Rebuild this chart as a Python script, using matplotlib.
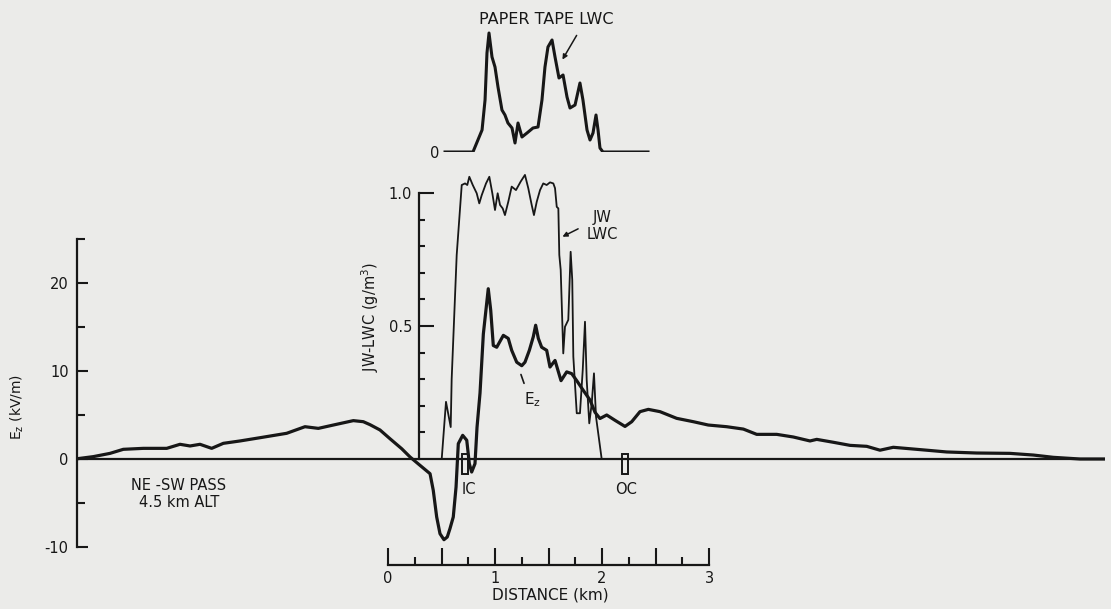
import numpy as np
import matplotlib

matplotlib.use("Agg")
import matplotlib.pyplot as plt
from matplotlib.patches import Rectangle
from matplotlib.ticker import FixedLocator, FixedFormatter

# vertical field Ez (kV/m) along the NE-SW pass, distance in km
ez_dist = [
    -2.925, -2.754, -2.598, -2.474, -2.287, -2.068, -1.944, -1.850, -1.757, -1.648,
    -1.539, -1.383, -1.196, -0.947, -0.776, -0.651, -0.511, -0.324, -0.231, -0.168,
    -0.075, 0.019, 0.128, 0.206, 0.299, 0.393, 0.423, 0.455, 0.486, 0.523,
    0.554, 0.579, 0.610, 0.636, 0.657, 0.698, 0.736, 0.760, 0.782, 0.813,
    0.832, 0.860, 0.891, 0.937, 0.960, 0.984, 1.016, 1.078, 1.124, 1.156,
    1.203, 1.250, 1.280, 1.321, 1.358, 1.380, 1.405, 1.436, 1.483, 1.514,
    1.561, 1.617, 1.670, 1.717, 1.764, 1.825, 1.888, 1.935, 1.981, 2.044,
    2.121, 2.215, 2.278, 2.355, 2.433, 2.542, 2.698, 2.853, 2.993, 3.165,
    3.321, 3.446, 3.633, 3.788, 3.944, 4.007, 4.162, 4.318, 4.474, 4.598,
    4.722, 5.035, 5.221, 5.502, 5.813, 6.031, 6.218, 6.467, 6.70,
]
ez_kvm = [
    0.0, 0.27, 0.64, 1.1, 1.21, 1.21, 1.67, 1.48, 1.67, 1.21,
    1.78, 2.05, 2.42, 2.92, 3.67, 3.48, 3.86, 4.36, 4.24, 3.9,
    3.3, 2.3, 1.17, 0.23, -0.72, -1.67, -3.56, -6.59, -8.49, -9.17,
    -8.86, -7.92, -6.59, -3.18, 1.74, 2.69, 2.13, -0.53, -1.48, -0.53,
    3.6, 7.5, 14.2, 19.35, 16.9, 12.9, 12.7, 14.05, 13.7, 12.35,
    11.0, 10.6, 11.0, 12.35, 13.9, 15.2, 13.7, 12.7, 12.35, 10.45,
    11.2, 8.9, 9.9, 9.7, 8.9, 7.8, 6.7, 5.3, 4.6, 5.0,
    4.4, 3.7, 4.24, 5.38, 5.64, 5.38, 4.62, 4.24, 3.86, 3.67,
    3.4, 2.8, 2.8, 2.5, 2.05, 2.23, 1.9, 1.55, 1.44, 1.0,
    1.33, 1.0, 0.8, 0.68, 0.64, 0.45, 0.19, 0.0, 0.0,
]

# Johnson-Williams liquid water content (g/m3)
jw_dist = [
    0.502, 0.542, 0.586, 0.595, 0.642, 0.689, 0.720, 0.741, 0.760, 0.792,
    0.829, 0.853, 0.876, 0.916, 0.947, 0.975, 1.000, 1.025, 1.047, 1.072,
    1.093, 1.124, 1.156, 1.196, 1.240, 1.280, 1.311, 1.343, 1.364, 1.390,
    1.421, 1.451, 1.483, 1.514, 1.545, 1.561, 1.577, 1.592, 1.601, 1.614,
    1.638, 1.654, 1.685, 1.707, 1.722, 1.732, 1.764, 1.794, 1.820, 1.841,
    1.857, 1.881, 1.904, 1.925, 1.944, 1.997,
]
jw_lwc = [
    0.0, 0.215, 0.12, 0.30, 0.767, 1.03, 1.036, 1.03, 1.061, 1.03,
    0.999, 0.961, 0.992, 1.036, 1.061, 0.999, 0.936, 0.999, 0.955, 0.942,
    0.917, 0.967, 1.024, 1.011, 1.043, 1.068, 1.018, 0.955, 0.917, 0.967,
    1.011, 1.036, 1.03, 1.04, 1.036, 1.018, 0.948, 0.942, 0.767, 0.711,
    0.397, 0.497, 0.523, 0.779, 0.673, 0.385, 0.172, 0.172, 0.335, 0.516,
    0.297, 0.134, 0.209, 0.322, 0.159, 0.0,
]

# paper tape LWC, relative units
tape_dist = [
    0.533, 0.794, 0.879, 0.907, 0.925, 0.944, 0.972, 1.000, 1.028, 1.065,
    1.093, 1.121, 1.159, 1.187, 1.215, 1.252, 1.299, 1.355, 1.402, 1.439,
    1.467, 1.495, 1.533, 1.561, 1.598, 1.636, 1.673, 1.701, 1.748, 1.794,
    1.822, 1.860, 1.888, 1.916, 1.944, 1.963, 1.981, 2.009, 2.430,
]
tape_lwc = [
    0, 0, 0.22, 0.52, 0.99, 1.19, 0.95, 0.85, 0.65, 0.42,
    0.37, 0.29, 0.24, 0.09, 0.29, 0.15, 0.19, 0.24, 0.25, 0.52,
    0.85, 1.05, 1.12, 0.95, 0.74, 0.77, 0.55, 0.44, 0.47, 0.69,
    0.52, 0.22, 0.12, 0.19, 0.37, 0.22, 0.04, 0, 0,
]

# in-cloud / out-of-cloud markers
edge_dist = [0.72, 2.215]
edge_labels = ["IC", "OC"]

ez_ticks = [-10, 0, 10, 20]
ez_minor = [-5, 5, 15, 25]
lwc_ticks = [0.5, 1.0]
dist_ticks = [0, 0.5, 1, 1.5, 2, 2.5, 3]
dist_labels = ["0", "", "1", "", "2", "", "3"]

W, H = 1111, 609
INK = "#171717"
BG = "#ebebe9"

# pixel anchors of the scanned figure
KM_PX, ZERO_X = 107.0, 388
EZ_PX, ZERO_Y = 8.8, 459
LWC_PX = 266.0
LEFT, RIGHT, BOTTOM, TOP = 77, 1105, 565, 150


def rect(x0, y0, x1, y1):
    return [x0 / W, 1 - y1 / H, (x1 - x0) / W, (y1 - y0) / H]


def main():
    plt.rcParams["font.family"] = ["DejaVu Sans"]
    plt.rcParams["mathtext.default"] = "regular"

    fig = plt.figure(figsize=(W / 100, H / 100), dpi=100)
    fig.patch.set_facecolor(BG)

    xlim = ((LEFT - ZERO_X) / KM_PX, (RIGHT - ZERO_X) / KM_PX)

    # Ez axes, distance axis at the bottom
    ax = fig.add_axes(rect(LEFT, TOP, RIGHT, BOTTOM))
    ax.patch.set_visible(False)
    ax.set_xlim(*xlim)
    ax.set_ylim((ZERO_Y - BOTTOM) / EZ_PX, (ZERO_Y - TOP) / EZ_PX)
    for s in ["top", "right"]:
        ax.spines[s].set_visible(False)
    ax.spines["left"].set_bounds(-10, 25)
    ax.spines["bottom"].set_bounds(0, 3)
    for s in ["left", "bottom"]:
        ax.spines[s].set_linewidth(1.6)
        ax.spines[s].set_color(INK)

    ax.yaxis.set_major_locator(FixedLocator(ez_ticks))
    ax.yaxis.set_minor_locator(FixedLocator(ez_minor))
    ax.yaxis.set_major_formatter(FixedFormatter([str(t) for t in ez_ticks]))
    ax.xaxis.set_major_locator(FixedLocator(dist_ticks))
    ax.xaxis.set_major_formatter(FixedFormatter(dist_labels))
    ax.xaxis.set_minor_locator(FixedLocator(np.arange(0.25, 3, 0.5)))
    ax.tick_params(axis="y", which="major", direction="in", length=8, width=1.5,
                   labelsize=10.5, pad=6, color=INK, labelcolor=INK)
    ax.tick_params(axis="y", which="minor", direction="in", length=6, width=1.5, color=INK)
    ax.tick_params(axis="x", which="major", direction="in", length=12, width=1.5,
                   labelsize=10.5, pad=4, color=INK, labelcolor=INK)
    ax.tick_params(axis="x", which="minor", direction="in", length=5.5, width=1.5, color=INK)

    ax.axhline(0, color=INK, lw=1.6)
    ax.plot(ez_dist, ez_kvm, color=INK, lw=2.3, solid_joinstyle="round")

    ax.set_ylabel("E$_z$ (kV/m)", fontsize=10, color=INK)
    ax.yaxis.set_label_coords((17 - LEFT) / (RIGHT - LEFT), (BOTTOM - 407) / (BOTTOM - TOP))
    ax.yaxis.label.set_va("center")
    ax.set_xlabel("DISTANCE (km)", fontsize=11, color=INK)
    ax.xaxis.set_label_coords((550 - LEFT) / (RIGHT - LEFT), (BOTTOM - 587) / (BOTTOM - TOP))

    for d, lab, dx in zip(edge_dist, edge_labels, [0.04, 0.01]):
        ax.add_patch(Rectangle((d - 0.028, -1.7), 0.056, 2.3, fill=False,
                               edgecolor=INK, lw=1.4, zorder=3))
        ax.text(d + dx, -3.45, lab, ha="center", va="center", fontsize=10.5, color=INK)

    ax.text(-1.953, -3.95, "NE -SW PASS\n4.5 km ALT", ha="center", va="center",
            fontsize=10.5, color=INK, linespacing=1.15)
    ax.text(1.355, 6.7, "E$_z$", ha="center", va="center", fontsize=11, color=INK)
    ax.annotate("", xy=(1.234, 9.9), xytext=(1.28, 8.3),
                arrowprops=dict(arrowstyle="-", lw=1.2, color=INK))

    # JW LWC axes, its axis sits inside the plot
    ax2 = fig.add_axes(rect(LEFT, TOP, RIGHT, BOTTOM), sharex=ax)
    ax2.patch.set_visible(False)
    ax2.set_ylim((ZERO_Y - BOTTOM) / LWC_PX, (ZERO_Y - TOP) / LWC_PX)
    for s in ["top", "right", "bottom"]:
        ax2.spines[s].set_visible(False)
    ax2.spines["left"].set_position(("data", (419 - ZERO_X) / KM_PX))
    ax2.spines["left"].set_bounds(0, 1.0)
    ax2.spines["left"].set_linewidth(1.6)
    ax2.spines["left"].set_color(INK)
    ax2.yaxis.set_major_locator(FixedLocator(lwc_ticks))
    ax2.yaxis.set_major_formatter(FixedFormatter(["0.5", "1.0"]))
    ax2.yaxis.set_minor_locator(FixedLocator([0.1, 0.2, 0.3, 0.4, 0.6, 0.7, 0.8, 0.9]))
    ax2.tick_params(axis="x", which="both", bottom=False, labelbottom=False)
    ax2.tick_params(axis="y", which="major", direction="in", length=11, width=1.5,
                    labelsize=10.5, pad=5, color=INK, labelcolor=INK)
    ax2.tick_params(axis="y", which="minor", direction="in", length=4.5, width=1.5, color=INK)
    ax2.plot(jw_dist, jw_lwc, color=INK, lw=1.3)

    ax2.set_ylabel("JW-LWC (g/m$^3$)", fontsize=10.5, color=INK)
    ax2.yaxis.set_label_coords((370 - LEFT) / (RIGHT - LEFT), (BOTTOM - 317) / (BOTTOM - TOP))
    ax2.yaxis.label.set_va("center")

    ax2.text(2.0, 0.876, "JW\nLWC", ha="center", va="center", fontsize=10.5,
             color=INK, linespacing=1.1)
    ax2.annotate("", xy=(1.607, 0.831), xytext=(1.80, 0.87),
                 arrowprops=dict(arrowstyle="-|>", lw=1.1, color=INK, mutation_scale=7))

    # paper tape trace on top
    ax3 = fig.add_axes(rect(LEFT, 2, RIGHT, 152), sharex=ax)
    ax3.patch.set_visible(False)
    ax3.set_ylim(0, 1.50)
    for s in ax3.spines.values():
        s.set_visible(False)
    ax3.spines["left"].set_position(("data", tape_dist[0]))
    ax3.yaxis.set_major_locator(FixedLocator([0]))
    ax3.yaxis.set_major_formatter(FixedFormatter(["0"]))
    ax3.tick_params(axis="y", length=0, pad=4, labelsize=10.5, labelcolor=INK)
    ax3.tick_params(axis="x", which="both", bottom=False, labelbottom=False)
    ax3.plot(tape_dist, tape_lwc, color=INK, lw=2.2, solid_joinstyle="round")
    ax3.text(1.477, 1.33, "PAPER TAPE LWC", ha="center", va="center",
             fontsize=11.5, color=INK)
    ax3.annotate("", xy=(1.617, 0.90), xytext=(1.776, 1.19),
                 arrowprops=dict(arrowstyle="-|>", lw=1.1, color=INK, mutation_scale=7))

    fig.savefig("out.png", dpi=100, facecolor=BG)


if __name__ == "__main__":
    main()
